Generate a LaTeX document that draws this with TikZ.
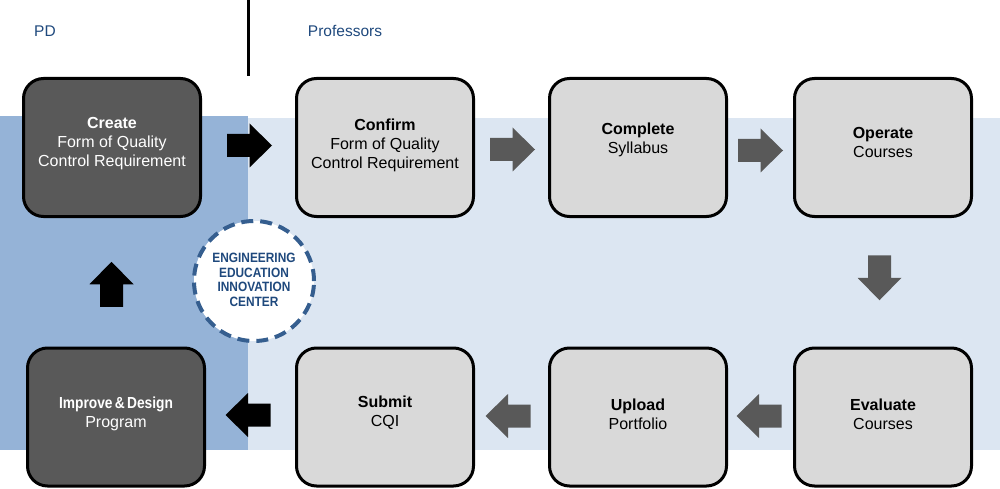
\documentclass[tikz,border=0pt]{standalone}
\usepackage{fontspec}
\setmainfont{Liberation Sans}
\usepackage{graphicx}
\usetikzlibrary{calc}
\definecolor{banddark}{HTML}{95B3D7}
\definecolor{bandlight}{HTML}{DCE6F2}
\definecolor{boxdark}{HTML}{595959}
\definecolor{boxlight}{HTML}{D9D9D9}
\definecolor{arrowgray}{HTML}{595959}
\definecolor{labelblue}{HTML}{1F497D}
\definecolor{circblue}{HTML}{355E8F}
\tikzset{
  stepbox/.style={rectangle, rounded corners=20pt, draw=black, line width=3pt,
    minimum width=177pt, minimum height=138pt, inner sep=0pt},
  darkbox/.style={stepbox, fill=boxdark},
  lightbox/.style={stepbox, fill=boxlight},
  boxtext/.style={align=center, inner sep=0pt, font=\fontsize{16}{19}\selectfont},
  lanelabel/.style={text=labelblue, inner sep=0pt, font=\fontsize{15.5}{18}\selectfont},
  barrow/.pic={\fill[pic actions] (-22.5,-11.5) -- (0,-11.5) -- (0,-22) -- (22.5,0) -- (0,22) -- (0,11.5) -- (-22.5,11.5) -- cycle;}
}
\begin{document}
\begin{tikzpicture}[x=1pt,y=-1pt]
\useasboundingbox (0,0) rectangle (1000,489);
% bands
\fill[bandlight] (248,118) rectangle (1000,450);
\fill[banddark] (0,116) rectangle (248,450);
% lane divider
\coordinate (divtop) at (248,0);
\coordinate (divbot) at (248,76);
\draw[line width=3pt] (divtop) -- (divbot);
% lane labels
\node[lanelabel] (pd) at (45,31) {PD};
\node[lanelabel] (prof) at (345,31) {Professors};
% boxes
\node[darkbox] (create) at (112,147.5) {};
\node[lightbox] (confirm) at (385,147.5) {};
\node[lightbox] (complete) at (638,147.5) {};
\node[lightbox] (operate) at (883,147.5) {};
\node[lightbox] (evaluate) at (883,417) {};
\node[lightbox] (upload) at (638,417) {};
\node[lightbox] (submit) at (385,417) {};
\node[darkbox] (improve) at (116,417) {};
% box texts
\node[boxtext, text=white] (createT) at ([yshift=3.5pt]create.center) {\textbf{Create}\\Form of Quality\\Control Requirement};
\node[boxtext] (confirmT) at ([yshift=2.5pt]confirm.center) {\textbf{Confirm}\\Form of Quality\\Control Requirement};
\node[boxtext] (completeT) at ([yshift=8pt]complete.center) {\textbf{Complete}\\Syllabus};
\node[boxtext] (operateT) at ([yshift=5pt]operate.center) {\textbf{Operate}\\Courses};
\node[boxtext] (evaluateT) at ([yshift=3pt]evaluate.center) {\textbf{Evaluate}\\Courses};
\node[boxtext] (uploadT) at ([yshift=2.5pt]upload.center) {\textbf{Upload}\\Portfolio};
\node[boxtext] (submitT) at ([yshift=4.5pt]submit.center) {\textbf{Submit}\\CQI};
\node[boxtext, text=white] (improveT) at ([yshift=3.5pt]improve.center) {\scalebox{0.86}[1]{\textbf{Improve\,\&\,Design}}\\Program};
% centre circle
\node[circle, minimum size=120pt, fill=white, draw=circblue, line width=4pt,
  dash pattern=on 12pt off 7pt, inner sep=0pt] (eeic) at (254,281) {};
\node[align=center, text=labelblue, inner sep=0pt,
  font=\fontsize{13.5}{14.5}\selectfont\bfseries] (eeicT) at (254,280)
  {\scalebox{0.88}[1]{ENGINEERING}\\\scalebox{0.88}[1]{EDUCATION}\\\scalebox{0.88}[1]{INNOVATION}\\\scalebox{0.88}[1]{CENTER}};
% block arrows
\pic[fill=black] at ($(create.east)!0.5!(confirm.west)+(1,-2)$) {barrow};
\pic[fill=arrowgray] at ($(confirm.east)!0.5!(complete.west)+(1,2)$) {barrow};
\pic[fill=arrowgray] at ($(complete.east)!0.5!(operate.west)+(0,3)$) {barrow};
\pic[fill=arrowgray, rotate=-90] at ($(operate.south)!0.5!(evaluate.north)+(-3.5,-4.5)$) {barrow};
\pic[fill=arrowgray, rotate=180] at ($(evaluate.west)!0.5!(upload.east)+(-1.5,-1)$) {barrow};
\pic[fill=arrowgray, rotate=180] at ($(upload.west)!0.5!(submit.east)+(-3.5,-1)$) {barrow};
\pic[fill=black, rotate=180] at ($(submit.west)!0.5!(improve.east)+(-2.5,-2)$) {barrow};
\pic[fill=black, rotate=90] at ($(improve.north)!0.5!(create.south)+(-2.5,2)$) {barrow};
\end{tikzpicture}
\end{document}
